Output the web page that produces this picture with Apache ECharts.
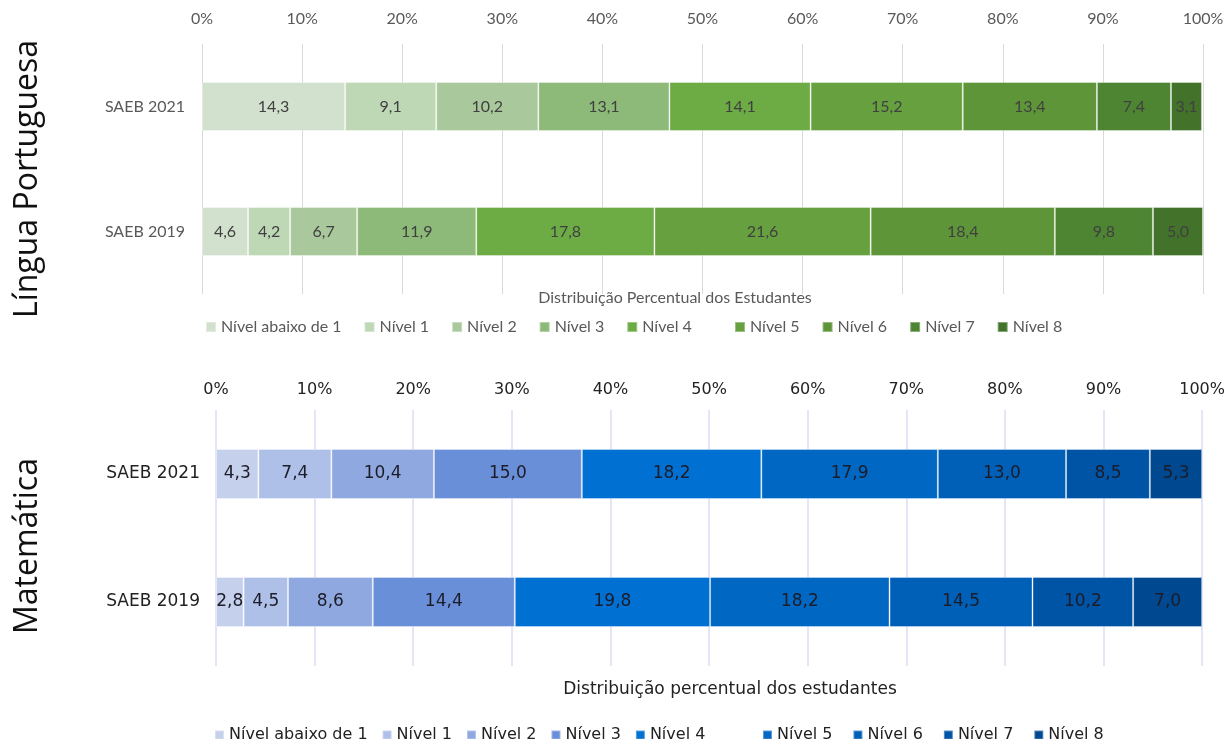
<!DOCTYPE html>
<html>
<head>
<meta charset="utf-8">
<script src="https://cdn.jsdelivr.net/npm/echarts@6/dist/echarts.min.js"></script>
<style>
html,body{margin:0;padding:0;background:#fff;}
#chart{width:1228px;height:739px;}
</style>
</head>
<body>
<div id="chart"></div>
<script>
const categories = ['SAEB 2021', 'SAEB 2019'];
const levels = ['Nível abaixo de 1', 'Nível 1', 'Nível 2', 'Nível 3', 'Nível 4', 'Nível 5', 'Nível 6', 'Nível 7', 'Nível 8'];
const lp2021 = [14.3, 9.1, 10.2, 13.1, 14.1, 15.2, 13.4, 7.4, 3.1];
const lp2019 = [4.6, 4.2, 6.7, 11.9, 17.8, 21.6, 18.4, 9.8, 5.0];
const mt2021 = [4.3, 7.4, 10.4, 15.0, 18.2, 17.9, 13.0, 8.5, 5.3];
const mt2019 = [2.8, 4.5, 8.6, 14.4, 19.8, 18.2, 14.5, 10.2, 7.0];
const greens = ['#d1e1cd', '#bed8b6', '#a9c99c', '#8dba78', '#6dab45', '#66a03f', '#5d9538', '#4e8532', '#43732a'];
const blues = ['#c5d0ec', '#aebfe8', '#8fa9e0', '#6a8fd9', '#0070d2', '#0068c2', '#005fb6', '#0054a6', '#004990'];
const subjectTitles = ['Língua Portuguesa', 'Matemática'];
const axisNames = ['Distribuição Percentual dos Estudantes', 'Distribuição percentual dos estudantes'];

const fmt = v => v.toFixed(1).replace('.', ',');
const LP_FONT = 'Lato';
const MT_FONT = 'Verdana, "DejaVu Sans"';

const series = [];
levels.forEach((lv, i) => {
  series.push({
    name: 'LP|' + lv, type: 'bar', stack: 'lp', xAxisIndex: 0, yAxisIndex: 0,
    barWidth: 49,
    itemStyle: { color: greens[i], borderColor: 'rgba(255,255,255,0.35)', borderWidth: 1 },
    label: { show: true, position: 'inside', color: '#404040', fontFamily: LP_FONT, fontSize: 16,
      formatter: p => fmt(p.value) },
    data: [lp2021[i], lp2019[i]]
  });
});
levels.forEach((lv, i) => {
  series.push({
    name: 'MT|' + lv, type: 'bar', stack: 'mt', xAxisIndex: 1, yAxisIndex: 1,
    barWidth: 50,
    itemStyle: { color: blues[i], borderColor: 'rgba(255,255,255,0.35)', borderWidth: 1 },
    label: { show: true, position: 'inside', color: '#1c1c28', fontFamily: MT_FONT, fontSize: 17,
      formatter: p => fmt(p.value) },
    data: [mt2021[i], mt2019[i]]
  });
});

const lpLegendStyle = { fontFamily: LP_FONT, fontSize: 16, color: '#595959' };
const mtLegendStyle = { fontFamily: MT_FONT, fontSize: 16, color: '#222222' };
const legendCommon = { icon: 'rect', selectedMode: false, formatter: n => n.split('|')[1] };

const chart = echarts.init(document.getElementById('chart'), null, { renderer: 'canvas' });
chart.setOption({
  backgroundColor: '#ffffff',
  animation: false,
  title: [
    { text: axisNames[0], left: 670, top: 285, textAlign: 'center',
      textStyle: { fontFamily: LP_FONT, fontSize: 16, fontWeight: 'normal', color: '#595959' } },
    { text: axisNames[1], left: 725, top: 676, textAlign: 'center',
      textStyle: { fontFamily: MT_FONT, fontSize: 17, fontWeight: 'normal', color: '#222222' } }
  ],
  graphic: [
    { type: 'text', x: 28, y: 179, rotation: Math.PI / 2,
      style: { text: subjectTitles[0], font: '400 32px "Open Sans"', fill: '#111', textAlign: 'center', textVerticalAlign: 'middle' } },
    { type: 'text', x: 28, y: 546, rotation: Math.PI / 2,
      style: { text: subjectTitles[1], font: '400 32px "Open Sans"', fill: '#111', textAlign: 'center', textVerticalAlign: 'middle' } }
  ],
  legend: [
    Object.assign({ data: levels.slice(0, 5).map(l => 'LP|' + l), left: 200, top: 314, itemWidth: 10, itemHeight: 10, itemGap: 22, textStyle: lpLegendStyle }, legendCommon),
    Object.assign({ data: levels.slice(5).map(l => 'LP|' + l), left: 729, top: 314, itemWidth: 10, itemHeight: 10, itemGap: 22, textStyle: lpLegendStyle }, legendCommon),
    Object.assign({ data: levels.slice(0, 5).map(l => 'MT|' + l), left: 209, top: 722, itemWidth: 9, itemHeight: 9, itemGap: 14, textStyle: mtLegendStyle }, legendCommon),
    Object.assign({ data: levels.slice(5).map(l => 'MT|' + l), left: 757, top: 722, itemWidth: 9, itemHeight: 9, itemGap: 20, textStyle: mtLegendStyle }, legendCommon)
  ],
  grid: [
    { left: 202, right: 25, top: 44, height: 250 },
    { left: 216, right: 25, top: 410, height: 256 }
  ],
  xAxis: [
    { gridIndex: 0, type: 'value', position: 'top', min: 0, max: 100, interval: 10,
      axisLine: { show: false }, axisTick: { show: false },
      axisLabel: { formatter: '{value}%', fontFamily: LP_FONT, fontSize: 16, color: '#595959', margin: 17 },
      splitLine: { lineStyle: { color: '#d9d9d9', width: 1 } } },
    { gridIndex: 1, type: 'value', position: 'top', min: 0, max: 100, interval: 10,
      axisLine: { show: false }, axisTick: { show: false },
      axisLabel: { formatter: '{value}%', fontFamily: MT_FONT, fontSize: 16, color: '#222222', margin: 12 },
      splitLine: { lineStyle: { color: '#dcdcf6', width: 1.5 } } }
  ],
  yAxis: [
    { gridIndex: 0, type: 'category', data: categories, inverse: true,
      axisLine: { show: false }, axisTick: { show: false },
      axisLabel: { fontFamily: LP_FONT, fontSize: 16, color: '#595959', margin: 17 } },
    { gridIndex: 1, type: 'category', data: categories, inverse: true,
      axisLine: { show: false }, axisTick: { show: false },
      axisLabel: { fontFamily: MT_FONT, fontSize: 17, color: '#222222', margin: 16 } }
  ],
  series: series
});
</script>
</body>
</html>
